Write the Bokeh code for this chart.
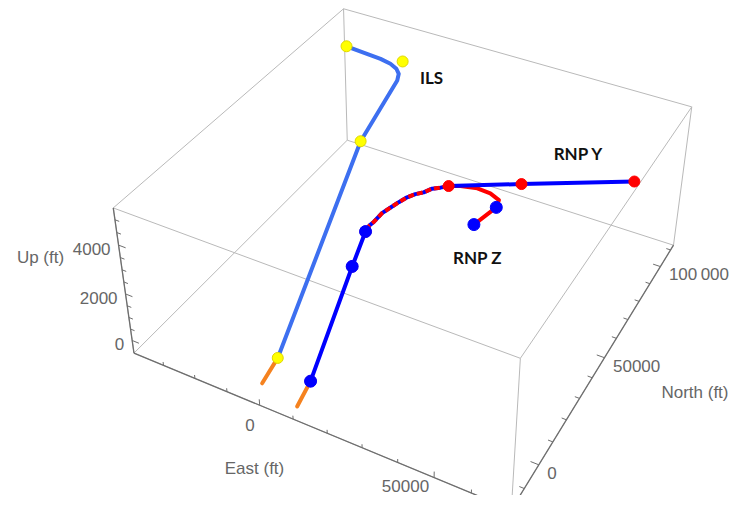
import numpy as np
from bokeh.plotting import figure
from bokeh.embed import file_html
from bokeh.resources import INLINE
from bokeh.models import Range1d
from bokeh.core.properties import value

# ---------------- data (East ft, North ft, Up ft) ----------------
E_RANGE = (-39600.0, 70500.0)
N_RANGE = (-18600.0, 112900.0)
U_RANGE = (-560.0, 5460.0)

east_major = [0, 50000]
north_major = [0, 50000, 100000]
up_major = [0, 2000, 4000]
east_labels = ["0", "50000"]
north_labels = ["0", "50000", "100\u2009000"]
up_labels = ["0", "2000", "4000"]

# runways
rw1_e = [-1000, -2500]; rw1_n = [-14900, -3500]; rw1_u = [0, 0]
rw2_e = [11100, 9400]; rw2_n = [-18000, -7200]; rw2_u = [0, 0]

# ILS path and its fixes
ils_e = [-2500, -11900, -10200, -10300, -12200, -15000, -18800, -31000]
ils_n = [-3500, 67700, 89400, 90700, 93100, 94900, 96000, 97500]
ils_u = [0, 3500, 4800, 5000, 5000, 5000, 5000, 5000]
ils_fix_e = [-2500, -11900, -12500, -31000]
ils_fix_n = [-3500, 67700, 98200, 97500]
ils_fix_u = [0, 3500, 5000, 5000]

# RNP Y entry, shared RF turn, shared final
rnpy_e = [65900, 40400, 24100]; rnpy_n = [78200, 60200, 48500]; rnpy_u = [4500, 4500, 4500]
rf_e = [21600, 19400, 17700, 15900, 14400, 13000, 11700, 10400, 9800, 9300]
rf_n = [48800, 48200, 46400, 44900, 42800, 40500, 38000, 35300, 31500, 29700]
rf_u = [4300, 4200, 4100, 4050, 4000, 3900, 3800, 3700, 3600, 3550]
fin_e = [9400, 9400, 9400]; fin_n = [27100, 18700, -7200]; fin_u = [3500, 2700, 0]
# RNP Z entry
rnpz_e = [37000, 38900, 38200, 35000, 31100, 26800]
rnpz_n = [35200, 45900, 49500, 51300, 51700, 50200]
rnpz_u = [4500, 4500, 4500, 4500, 4500, 4500]

# ---------------- view calibration (screen px of the box corners) ----------------
CORNER_PX = {
    (0, 0, 0): (133, 352), (0, 0, 1): (113, 208),
    (1, 0, 0): (511, 509), (1, 0, 1): (520, 358),
    (0, 1, 0): (347, 140), (0, 1, 1): (343, 8),
    (1, 1, 0): (673, 245), (1, 1, 1): (691, 106),
}
rows = []
for (i, j, k), (x, y) in CORNER_PX.items():
    X = [E_RANGE[i] / 1e4, N_RANGE[j] / 1e4, U_RANGE[k] / 1e3, 1.0]
    xs, ys = x / 100, y / 100
    rows.append(X + [0, 0, 0, 0] + [-xs * c for c in X])
    rows.append([0, 0, 0, 0] + X + [-ys * c for c in X])
P = np.linalg.svd(np.array(rows))[2][-1].reshape(3, 4)


def project(e, n, u):
    e = np.atleast_1d(np.asarray(e, float)); n = np.atleast_1d(np.asarray(n, float)); u = np.atleast_1d(np.asarray(u, float))
    e, n, u = np.broadcast_arrays(e, n, u)
    X = np.vstack([e / 1e4, n / 1e4, u / 1e3, np.ones_like(e)])
    h = P @ X
    return list(h[0] / h[2] * 100), list(h[1] / h[2] * 100)


# ---------------- figure ----------------
p = figure(width=730, height=495, output_backend="svg", toolbar_location=None,
           x_range=Range1d(0, 730), y_range=Range1d(495, 0), min_border=0)
p.axis.visible = False
p.grid.visible = False
p.outline_line_color = None

# box
xs, ys = [], []
for a in CORNER_PX:
    for d in range(3):
        if a[d] == 0:
            b = list(a); b[d] = 1
            px, py = project([E_RANGE[a[0]], E_RANGE[b[0]]], [N_RANGE[a[1]], N_RANGE[b[1]]], [U_RANGE[a[2]], U_RANGE[b[2]]])
            xs.append(px); ys.append(py)
p.multi_line(xs, ys, line_color="#b9b9b9", line_width=1)

AX = "#6e6e6e"
E0, E1 = E_RANGE; N0, N1 = N_RANGE; U0, U1 = U_RANGE
for (e, n, u) in [((E0, E1), (N0, N0), (U0, U0)), ((E1, E1), (N0, N1), (U0, U0)), ((E0, E0), (N0, N0), (U0, U1))]:
    px, py = project(list(e), list(n), list(u))
    p.line(px, py, line_color=AX, line_width=1.3)

# ticks
tx, ty = [], []
for v in range(-30000, 70001, 10000):
    L = 260 if v in east_major else 150
    px, py = project([v, v], [N0, N0], [U0, U0 + L]); tx.append(px); ty.append(py)
for v in range(-10000, 110001, 10000):
    L = 2200 if v in north_major else 1300
    px, py = project([E1, E1 - L], [v, v], [U0, U0]); tx.append(px); ty.append(py)
for v in range(0, 5001, 500):
    L = 2200 if v in up_major else 1300
    px, py = project([E0, E0 + L], [N0, N0], [v, v]); tx.append(px); ty.append(py)
p.multi_line(tx, ty, line_color=AX, line_width=1)

LBL = dict(text_font=value("Liberation Sans"), text_font_size="17px", text_color="#666666", text_baseline="middle")
px, py = project(east_major, N0, U0)
p.text([x - 5 for x in px], [min(y + 20, 485) for y in py], text=east_labels, text_align="right", **LBL)
px, py = project(E1, north_major, U0)
p.text([x + 8.5 for x in px], [y + 8 for y in py], text=north_labels, text_align="left", **LBL)
px, py = project(E0, N0, up_major)
p.text([x - 8 for x in px], [y + 4 for y in py], text=up_labels, text_align="right", **LBL)
p.text([254, 40], [468, 257], text=["East (ft)", "Up (ft)"], text_align="center", **LBL)
p.text([728], [392], text=["North (ft)"], text_align="right", **LBL)

# runways
for e, n, u in [(rw1_e, rw1_n, rw1_u), (rw2_e, rw2_n, rw2_u)]:
    px, py = project(e, n, u)
    p.line(px, py, line_color="#f5821f", line_width=4, line_cap="round")

# ILS
px, py = project(ils_e, ils_n, ils_u)
p.line(px, py, line_color="#3d6ff0", line_width=4, line_join="round", line_cap="round")
px, py = project(ils_fix_e, ils_fix_n, ils_fix_u)
p.scatter(px, py, size=11, fill_color="#ffff00", line_color="#e0d800", line_width=1)

# RNP
ye, yn, yu = rnpy_e + rf_e + fin_e, rnpy_n + rf_n + fin_n, rnpy_u + rf_u + fin_u
ze_own = rnpz_e + rnpy_e[-1:]; zn_own = rnpz_n + rnpy_n[-1:]; zu_own = rnpz_u + rnpy_u[-1:]
px, py = project(ze_own, zn_own, zu_own)
p.line(px, py, line_color="#ff0000", line_width=4, line_join="round", line_cap="round")
px, py = project(ye, yn, yu)
p.line(px, py, line_color="#0000ff", line_width=4, line_join="round", line_cap="round")
px, py = project(rnpy_e[-1:] + rf_e + fin_e[:1], rnpy_n[-1:] + rf_n + fin_n[:1], rnpy_u[-1:] + rf_u + fin_u[:1])
p.line(px, py, line_color="#ff0000", line_width=4, line_dash="6 3")
px, py = project(rnpy_e + fin_e, rnpy_n + fin_n, rnpy_u + fin_u)
p.scatter(px, py, size=11, fill_color="#ff0000", line_color="#ff0000")
px, py = project(rnpz_e[:2] + fin_e, rnpz_n[:2] + fin_n, rnpz_u[:2] + fin_u)
p.scatter(px, py, size=12, fill_color="#0000ff", line_color="#0000ff")

TT = dict(text_font=value("Lato"), text_font_size="17px", text_font_style="bold", text_color="#111111",
          text_align="center", text_baseline="middle")
p.text([431, 578, 477], [77, 153, 257], text=["ILS", "RNP Y", "RNP Z"], **TT)

open("out.html", "w").write(file_html(p, INLINE))
